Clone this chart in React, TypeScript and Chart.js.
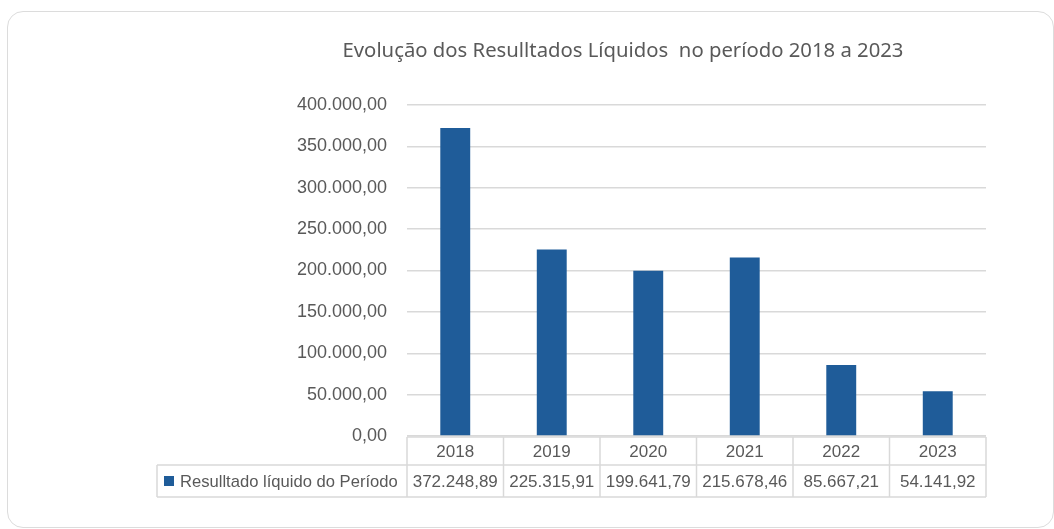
import React, { useEffect, useRef } from "react";
import { Chart, registerables } from "chart.js";

Chart.register(...registerables);

const categories = ["2018", "2019", "2020", "2021", "2022", "2023"];
const values = [372248.89, 225315.91, 199641.79, 215678.46, 85667.21, 54141.92];
const valueLabels = ["372.248,89", "225.315,91", "199.641,79", "215.678,46", "85.667,21", "54.141,92"];
const seriesName = "Resulltado líquido do Período";
const chartTitle = "Evolução dos Resulltados Líquidos  no período 2018 a 2023";

const BAR = "#1f5c99";
const TEXT = "#595959";
const LINE = "#d9d9d9";

function fmt(v: number): string {
  const s = Math.round(v).toString().replace(/\B(?=(\d{3})+(?!\d))/g, ".");
  return s + ",00";
}

const extras = {
  id: "extras",
  afterDraw(chart: any) {
    const ctx = chart.ctx;
    const area = chart.chartArea;
    const n = categories.length;
    const colW = (area.right - area.left) / n;
    const top = area.bottom + 1;
    const mid = top + 28;
    const bot = mid + 32;
    const labelLeft = 157;
    ctx.save();
    // title
    ctx.fillStyle = TEXT;
    ctx.font = "20.3px 'Noto Sans'";
    ctx.textAlign = "center";
    ctx.textBaseline = "middle";
    ctx.fillText(chartTitle, 623, 51);
    // table lines
    ctx.strokeStyle = LINE;
    ctx.lineWidth = 1.5;
    ctx.beginPath();
    ctx.moveTo(area.left, top);
    ctx.lineTo(area.right, top);
    ctx.moveTo(labelLeft, mid);
    ctx.lineTo(area.right, mid);
    ctx.moveTo(labelLeft, bot);
    ctx.lineTo(area.right, bot);
    ctx.moveTo(labelLeft, mid);
    ctx.lineTo(labelLeft, bot);
    for (let i = 0; i <= n; i++) {
      const x = area.left + i * colW;
      ctx.moveTo(x, top);
      ctx.lineTo(x, bot);
    }
    ctx.stroke();
    // text
    ctx.fillStyle = TEXT;
    ctx.font = "17px 'Liberation Sans'";
    ctx.textAlign = "center";
    for (let i = 0; i < n; i++) {
      const cx = area.left + (i + 0.5) * colW;
      ctx.fillText(categories[i], cx, (top + mid) / 2 + 1);
      ctx.fillText(valueLabels[i], cx, (mid + bot) / 2 + 1);
    }
    ctx.font = "16.6px 'Liberation Sans'";
    ctx.textAlign = "left";
    ctx.fillText(seriesName, 180, (mid + bot) / 2 + 1);
    ctx.fillStyle = BAR;
    ctx.fillRect(164, (mid + bot) / 2 - 5, 10, 10);
    ctx.restore();
  },
};

export default function App() {
  const ref = useRef<HTMLCanvasElement>(null);
  useEffect(() => {
    if (!ref.current) return;
    const chart = new Chart(ref.current, {
      type: "bar",
      data: {
        labels: categories,
        datasets: [
          {
            label: seriesName,
            data: values,
            backgroundColor: BAR,
            barPercentage: 0.62,
            categoryPercentage: 0.5,
          },
        ],
      },
      options: {
        animation: false,
        responsive: false,
        maintainAspectRatio: false,
        layout: { padding: { left: 0, right: 68, top: 105, bottom: 93 } },
        plugins: { legend: { display: false }, title: { display: false }, tooltip: { enabled: false } },
        scales: {
          x: { display: false },
          y: {
            min: 0,
            max: 400000,
            ticks: {
              stepSize: 50000,
              padding: 20,
              color: TEXT,
              font: { family: "'Liberation Sans'", size: 18 },
              callback: (v: any) => fmt(Number(v)),
            },
            grid: { color: LINE, lineWidth: 1.5, drawTicks: false },
            border: { display: false },
            afterFit: (s: any) => {
              s.width = 407;
            },
          },
        },
      },
      plugins: [extras],
    });
    return () => chart.destroy();
  }, []);
  return (
    <div style={{ position: "fixed", left: 0, top: 0, width: 1054, height: 529, background: "#fff" }}>
      <div
        style={{
          position: "absolute",
          left: 7,
          top: 11,
          width: 1047,
          height: 517,
          border: "1.5px solid #dcdcdc",
          borderRadius: 16,
          boxSizing: "border-box",
        }}
      />
      <canvas ref={ref} width={1054} height={529} style={{ position: "absolute", left: 0, top: 0 }} />
    </div>
  );
}
